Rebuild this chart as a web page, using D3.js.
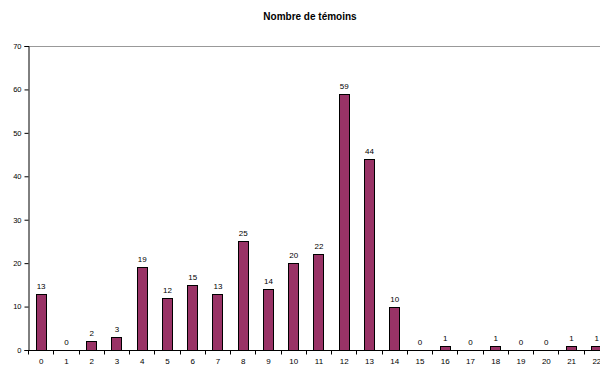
<!DOCTYPE html>
<html>
<head>
<meta charset="utf-8">
<script src="https://cdn.jsdelivr.net/npm/d3@7"></script>
<style>
  html, body { margin: 0; padding: 0; background: #fff; overflow: hidden; }
  svg { display: block; }
  svg text { font-family: "Liberation Sans", Arial, sans-serif; }
</style>
</head>
<body>
<svg id="chart" width="600" height="365"></svg>
<script>
// Number of witnesses per class
const categories = ["0","1","2","3","4","5","6","7","8","9","10","11","12","13","14","15","16","17","18","19","20","21","22"];
const counts = [13, 0, 2, 3, 19, 12, 15, 13, 25, 14, 20, 22, 59, 44, 10, 0, 1, 0, 1, 0, 0, 1, 1];
const yTicks = [0, 10, 20, 30, 40, 50, 60, 70];
const title = "Nombre de témoins";

const svg = d3.select("#chart");
const plotLeft = 28, plotTop = 46, plotBottom = 350;
const bandStep = 25.26;
const plotRight = plotLeft + bandStep * categories.length;

const x = d3.scaleBand().domain(categories).range([plotLeft, plotRight]).paddingInner(0.6).paddingOuter(0.3);
const y = d3.scaleLinear().domain([0, 70]).range([plotBottom, plotTop]);

// title
svg.append("text")
  .attr("x", 310).attr("y", 20)
  .attr("text-anchor", "middle")
  .attr("font-size", 10).attr("font-weight", "bold")
  .attr("fill", "#000")
  .text(title);

// plot area top border
svg.append("line")
  .attr("x1", plotLeft).attr("x2", 600)
  .attr("y1", plotTop + 0.5).attr("y2", plotTop + 0.5)
  .attr("stroke", "#999").attr("stroke-width", 1);

// bars
svg.append("g").selectAll("rect")
  .data(counts.map((v, i) => ({ c: categories[i], v })))
  .join("rect")
  .attr("x", d => Math.round(x(d.c)) + 0.5)
  .attr("y", d => Math.round(y(d.v)) + 0.5)
  .attr("width", Math.round(x.bandwidth()))
  .attr("height", d => Math.max(0, Math.round(y(0)) - Math.round(y(d.v))))
  .attr("fill", "#993366")
  .attr("stroke", "#000").attr("stroke-width", 1);

// value labels
svg.append("g").selectAll("text")
  .data(counts.map((v, i) => ({ c: categories[i], v })))
  .join("text")
  .attr("x", d => x(d.c) + x.bandwidth() / 2 + 0.5)
  .attr("y", d => y(d.v) - 5)
  .attr("text-anchor", "middle")
  .attr("font-size", 8)
  .attr("fill", "#000")
  .text(d => d.v);

// y axis
const yAxis = svg.append("g")
  .attr("transform", `translate(${plotLeft + 0.5},0)`)
  .call(d3.axisLeft(y).tickValues(yTicks).tickSize(4).tickPadding(3).tickFormat(d3.format("d")));
yAxis.select(".domain").attr("stroke", "#000");
yAxis.selectAll("text").attr("font-size", 7.5).attr("fill", "#000");

// x axis with ticks at category boundaries
const xAxis = svg.append("g")
  .attr("transform", `translate(0,${plotBottom + 0.5})`);
xAxis.append("line")
  .attr("x1", plotLeft).attr("x2", 600)
  .attr("stroke", "#000");
const bounds = d3.range(categories.length + 1).map(i => plotLeft + i * bandStep);
xAxis.selectAll("line.tick")
  .data(bounds)
  .join("line")
  .attr("class", "tick")
  .attr("x1", d => Math.round(d) + 0.5).attr("x2", d => Math.round(d) + 0.5)
  .attr("y1", 0).attr("y2", 4)
  .attr("stroke", "#000");
xAxis.selectAll("text")
  .data(categories)
  .join("text")
  .attr("x", d => x(d) + x.bandwidth() / 2 + 0.5)
  .attr("y", 13)
  .attr("text-anchor", "middle")
  .attr("font-size", 8)
  .attr("fill", "#000")
  .text(d => d);
</script>
</body>
</html>
